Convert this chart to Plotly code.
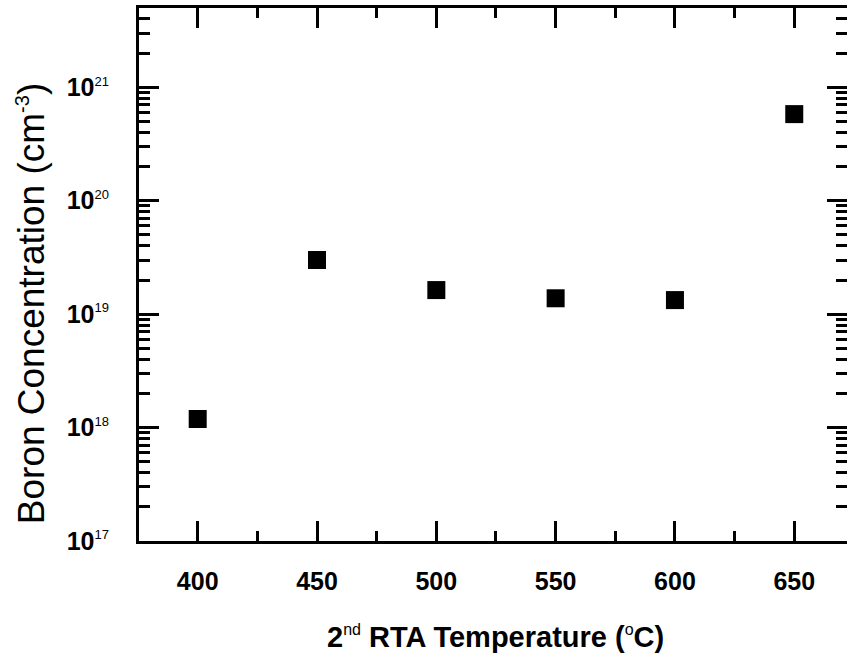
import plotly.graph_objects as go
import math

# Data
temperature_c = [400, 450, 500, 550, 600, 650]
boron_conc = [1.19e18, 3.0e19, 1.63e19, 1.38e19, 1.33e19, 5.8e20]

x_tick_vals = [400, 450, 500, 550, 600, 650]
y_tick_exps = [17, 18, 19, 20, 21]

FONT = "Liberation Sans, Arial, sans-serif"

y_tick_vals = [10.0 ** e for e in y_tick_exps]
y_tick_text = [
    f"10<sup><span style='font-size:13px;font-weight:normal'>{e}</span></sup>"
    for e in y_tick_exps
]
y_range = [17, math.log10(5e21)]

fig = go.Figure()
fig.add_trace(go.Scatter(
    x=temperature_c, y=boron_conc, mode="markers",
    marker=dict(symbol="square", size=18, color="black", line=dict(width=0)),
    showlegend=False,
))
# invisible trace to anchor the right-hand tick axis
fig.add_trace(go.Scatter(
    x=temperature_c, y=boron_conc, mode="markers", yaxis="y2",
    marker=dict(size=1, opacity=0), showlegend=False, hoverinfo="skip",
))

fig.update_xaxes(
    range=[375.4, 672.1],
    tickvals=x_tick_vals,
    tickfont=dict(family=FONT, size=25, color="black", weight="bold"),
    ticklabelstandoff=16,
    showline=True, linecolor="black", linewidth=3, mirror="ticks",
    ticks="inside", tickwidth=3, tickcolor="black", ticklen=20,
    showgrid=False, zeroline=False,
    minor=dict(ticks="inside", ticklen=10, tickwidth=3, tickcolor="black", dtick=25, tick0=375),
)
fig.update_layout(
    yaxis=dict(
        type="log", range=y_range,
        tickvals=y_tick_vals, ticktext=y_tick_text,
        tickfont=dict(family=FONT, size=25, color="black", weight="bold"),
        ticklabelstandoff=22,
        showline=True, linecolor="black", linewidth=3, mirror=False,
        ticks="inside", tickwidth=3, tickcolor="black", ticklen=20,
        showgrid=False, zeroline=False,
        minor=dict(ticks="inside", ticklen=11, tickwidth=3, tickcolor="black", dtick="D1"),
    ),
    yaxis2=dict(
        type="log", range=y_range, overlaying="y", side="right",
        tickvals=y_tick_vals, showticklabels=False,
        showline=False, ticks="inside", tickwidth=3, tickcolor="black", ticklen=20,
        showgrid=False, zeroline=False,
        minor=dict(ticks="inside", ticklen=11, tickwidth=3, tickcolor="black", dtick="D1"),
    ),
)

fig.add_annotation(
    text="Boron Concentration (cm<sup><span style='font-size:20px'>-3</span></sup>)",
    textangle=-90, showarrow=False,
    xref="paper", yref="paper", x=-0.152, y=0.445,
    xanchor="center", yanchor="middle",
    font=dict(family=FONT, size=37, color="black"),
)
fig.add_annotation(
    text="2<sup><span style='font-size:16px;font-weight:normal'>nd</span></sup> RTA Temperature (<sup><span style='font-size:16px;font-weight:normal'>o</span></sup>C)",
    showarrow=False,
    xref="paper", yref="paper", x=0.504, y=-0.18,
    xanchor="center", yanchor="middle",
    font=dict(family=FONT, size=29, color="black", weight="bold"),
)

fig.update_layout(
    width=847, height=658,
    margin=dict(l=139, r=0, t=8, b=117),
    paper_bgcolor="white", plot_bgcolor="white",
)

fig.write_html("out.html")
